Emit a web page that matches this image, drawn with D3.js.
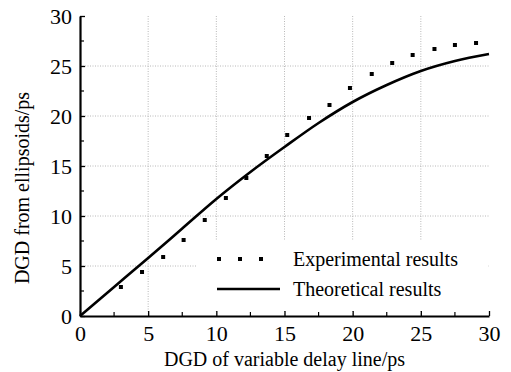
<!DOCTYPE html>
<html><head><meta charset="utf-8">
<script src="https://cdn.jsdelivr.net/npm/d3@7"></script>
<style>body{margin:0;background:#fff}</style>
</head><body>
<script>
const expX = [3.0, 4.55, 6.1, 7.6, 9.15, 10.7, 12.2, 13.7, 15.2, 16.8, 18.3, 19.8, 21.4, 22.9, 24.4, 26.0, 27.5, 29.05];
const expY = [2.9, 4.4, 5.9, 7.6, 9.6, 11.8, 13.8, 16.0, 18.1, 19.8, 21.1, 22.8, 24.2, 25.3, 26.1, 26.7, 27.1, 27.3];
const theoX = [0, 2.5, 5, 7.5, 10, 12.5, 15, 17.5, 20, 22.5, 25, 27.5, 30];
const theoY = [0, 2.9, 5.8, 8.75, 11.7, 14.4, 16.9, 19.3, 21.4, 23.1, 24.5, 25.5, 26.2];
const majorTicks = [0, 5, 10, 15, 20, 25, 30];
const minorTicks = [2.5, 7.5, 12.5, 17.5, 22.5, 27.5];
const gridVals = [5, 10, 15, 20, 25];
const xTitle = "DGD of variable delay line/ps";
const yTitle = "DGD from ellipsoids/ps";
const legendLabels = ["Experimental results", "Theoretical results"];

const FONT = "Times New Roman";
const W = 511, H = 372;
const svg = d3.select("body").append("svg").attr("width", W).attr("height", H)
  .attr("font-family", FONT).style("font-family", '"Times New Roman"');
const x = d3.scaleLinear().domain([0, 30]).range([80, 489]);
const y = d3.scaleLinear().domain([0, 30]).range([316, 16]);

function serif(sel, size) {
  sel.attr("font-family", FONT).style("font-family", '"Times New Roman"')
     .attr("font-size", size).style("font-size", size + "px").attr("fill", "#000");
}

// grid
const grid = svg.append("g").attr("stroke", "#b8b8b8").attr("stroke-width", 1).attr("stroke-dasharray", "1,1.5");
grid.selectAll(".gx").data(gridVals).join("line")
  .attr("x1", d => x(d)).attr("x2", d => x(d)).attr("y1", y(30)).attr("y2", y(0));
grid.selectAll(".gy").data(gridVals).join("line")
  .attr("y1", d => y(d)).attr("y2", d => y(d)).attr("x1", x(0)).attr("x2", x(30));

// legend background
svg.append("rect").attr("x", 196).attr("y", 241).attr("width", 292).attr("height", 70).attr("fill", "#fff");

// theoretical curve
const line = d3.line().x(d => x(d[0])).y(d => y(d[1])).curve(d3.curveMonotoneX);
svg.append("path").datum(theoX.map((v, i) => [v, theoY[i]]))
  .attr("d", line).attr("fill", "none").attr("stroke", "#000").attr("stroke-width", 2.6);

// experimental points
svg.selectAll(".pt").data(expX.map((v, i) => [v, expY[i]])).join("rect")
  .attr("x", d => x(d[0]) - 2).attr("y", d => y(d[1]) - 2)
  .attr("width", 4).attr("height", 4).attr("fill", "#000");

// axes
const xAxis = d3.axisBottom(x).tickValues(majorTicks).tickSizeInner(-5).tickSizeOuter(0).tickPadding(9).tickFormat(d3.format("d"));
const gx = svg.append("g").attr("transform", `translate(0,${y(0)})`).call(xAxis);
gx.attr("font-family", FONT).attr("font-size", 22);
gx.select(".domain").attr("stroke-width", 2.2);
gx.selectAll(".tick line").attr("stroke-width", 1.3);
gx.selectAll(".tick text").call(serif, 22).attr("dy", "0.72em");
svg.append("g").selectAll("line").data(minorTicks).join("line")
  .attr("x1", d => x(d)).attr("x2", d => x(d)).attr("y1", y(0)).attr("y2", y(0) - 4)
  .attr("stroke", "#000").attr("stroke-width", 1.2);

const yAxis = d3.axisLeft(y).tickValues(majorTicks).tickSizeInner(-5).tickSizeOuter(0).tickPadding(8).tickFormat(d3.format("d"));
const gy = svg.append("g").attr("transform", `translate(${x(0)},0)`).call(yAxis);
gy.attr("font-family", FONT).attr("font-size", 22);
gy.select(".domain").attr("stroke-width", 2.2);
gy.selectAll(".tick line").attr("stroke-width", 1.3);
gy.selectAll(".tick text").call(serif, 22);
svg.append("g").selectAll("line").data(minorTicks).join("line")
  .attr("y1", d => y(d)).attr("y2", d => y(d)).attr("x1", x(0)).attr("x2", x(0) + 4)
  .attr("stroke", "#000").attr("stroke-width", 1.2);

// axis titles
svg.append("text").attr("x", (x(0) + x(30)) / 2).attr("y", 366).attr("text-anchor", "middle")
  .call(serif, 20).text(xTitle);
svg.append("text").attr("transform", `translate(29,188) rotate(-90)`).attr("text-anchor", "middle")
  .call(serif, 20).text(yTitle);

// legend
const lg = svg.append("g");
lg.selectAll("rect").data([219, 240, 261]).join("rect")
  .attr("x", d => d - 2).attr("y", 257).attr("width", 4).attr("height", 4).attr("fill", "#000");
lg.append("line").attr("x1", 217).attr("x2", 280).attr("y1", 289).attr("y2", 289).attr("stroke", "#000").attr("stroke-width", 2.6);
lg.selectAll("text").data(legendLabels).join("text")
  .attr("x", 293).attr("y", (d, i) => 266 + i * 30)
  .call(serif, 20).text(d => d);
</script>
</body></html>
